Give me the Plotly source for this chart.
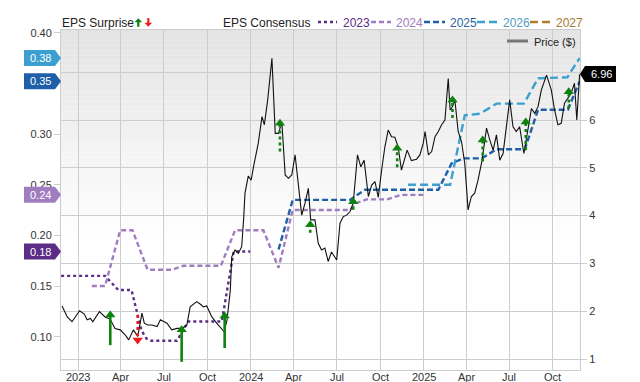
import plotly.graph_objects as go

# ---------------- data ----------------
price_dates = [
    "2022-11-28", "2022-12-09", "2022-12-19", "2022-12-26", "2023-01-04", "2023-01-14", "2023-01-20",
    "2023-01-27", "2023-02-01", "2023-02-15", "2023-02-27", "2023-03-10", "2023-03-20", "2023-03-31",
    "2023-04-11", "2023-04-18", "2023-04-28", "2023-05-07", "2023-05-16", "2023-05-21", "2023-05-28",
    "2023-06-06", "2023-06-17", "2023-06-24", "2023-07-08", "2023-07-18", "2023-07-29", "2023-08-09",
    "2023-08-19", "2023-08-26", "2023-09-09", "2023-09-16", "2023-09-23", "2023-09-30", "2023-10-11",
    "2023-10-21", "2023-11-01", "2023-11-06", "2023-11-12", "2023-11-19", "2023-11-22", "2023-11-29",
    "2023-12-06", "2023-12-10", "2023-12-13", "2023-12-17", "2023-12-20", "2023-12-27", "2024-01-02",
    "2024-01-07", "2024-01-14", "2024-01-17", "2024-01-25", "2024-01-30", "2024-02-06", "2024-02-15",
    "2024-02-22", "2024-02-29", "2024-03-07", "2024-03-14", "2024-03-21", "2024-03-28", "2024-04-04",
    "2024-04-11", "2024-04-18", "2024-04-25", "2024-05-02", "2024-05-07", "2024-05-16", "2024-05-23",
    "2024-05-30", "2024-06-06", "2024-06-13", "2024-06-20", "2024-07-01", "2024-07-08", "2024-07-15",
    "2024-07-22", "2024-07-29", "2024-08-05", "2024-08-14", "2024-08-21", "2024-08-28", "2024-09-06",
    "2024-09-13", "2024-09-20", "2024-09-27", "2024-10-04", "2024-10-11", "2024-10-18", "2024-10-25",
    "2024-11-01", "2024-11-08", "2024-11-15", "2024-11-22", "2024-11-27", "2024-12-06", "2024-12-17",
    "2024-12-24", "2024-12-31", "2025-01-04", "2025-01-11", "2025-01-18", "2025-01-25", "2025-02-01",
    "2025-02-08", "2025-02-15", "2025-02-22", "2025-02-26", "2025-03-01", "2025-03-08", "2025-03-15",
    "2025-03-22", "2025-03-29", "2025-04-05", "2025-04-12", "2025-04-19", "2025-04-26", "2025-05-04",
    "2025-05-14", "2025-05-21", "2025-05-28", "2025-06-04", "2025-06-11", "2025-06-18", "2025-06-25",
    "2025-07-02", "2025-07-09", "2025-07-16", "2025-07-23", "2025-08-01", "2025-08-07", "2025-08-17",
    "2025-08-24", "2025-08-31", "2025-09-07", "2025-09-18", "2025-09-28", "2025-10-05", "2025-10-12",
    "2025-10-19", "2025-10-26", "2025-11-02", "2025-11-09", "2025-11-16", "2025-11-21", "2025-11-27",
]
price_values = [
    2.11, 1.88, 1.78, 1.88, 2.01, 1.94, 1.82,
    1.85, 1.78, 1.99, 1.88, 1.83, 1.64, 1.61,
    1.50, 1.40, 1.61, 1.47, 1.96, 1.75, 1.71,
    1.71, 1.68, 1.82, 1.75, 1.61, 1.64, 1.64,
    1.71, 2.09, 2.20, 2.15, 2.09, 2.11, 1.88,
    1.75, 1.64, 1.57, 1.82, 2.44, 3.14, 3.28,
    3.21, 3.29, 3.35, 3.91, 4.47, 4.83, 4.74,
    5.02, 5.37, 5.51, 6.07, 5.90, 6.42, 7.29,
    5.72, 5.72, 5.96, 4.85, 4.78, 4.85, 5.27,
    4.60, 4.01, 4.26, 4.57, 3.91, 3.91, 3.42,
    3.28, 3.32, 3.04, 3.24, 3.07, 3.84, 3.98,
    4.01, 4.08, 4.26, 5.27, 5.02, 5.16, 4.40,
    4.64, 4.71, 4.38, 4.95, 5.44, 5.79, 5.65,
    5.64, 5.44, 4.95, 5.20, 5.37, 5.15, 5.18,
    5.27, 5.51, 5.76, 5.27, 5.34, 5.65, 5.76,
    5.90, 6.00, 6.87, 6.21, 6.24, 6.42, 5.76,
    5.55, 5.09, 4.12, 4.40, 4.47, 4.74, 5.13,
    5.83, 5.58, 5.37, 5.69, 5.16, 5.30, 5.86,
    6.42, 5.86, 5.76, 5.86, 5.30, 5.65, 6.24,
    6.14, 6.28, 6.63, 6.94, 6.63, 6.21, 5.90,
    5.93, 6.35, 6.45, 6.56, 6.77, 6.00, 6.96,
]

eps2023_dates = ["2022-11-26", "2023-02-27", "2023-03-27", "2023-04-24", "2023-05-15", "2023-05-26",
                 "2023-06-05", "2023-07-29", "2023-08-22", "2023-11-01", "2023-11-26", "2023-12-31"]
eps2023_values = [0.160, 0.160, 0.146, 0.146, 0.106, 0.098, 0.096, 0.096, 0.115, 0.115, 0.184, 0.184]

eps2024_dates = ["2023-01-30", "2023-02-27", "2023-03-31", "2023-04-26", "2023-05-28", "2023-07-18",
                 "2023-08-12", "2023-10-30", "2023-11-29", "2024-01-28", "2024-02-29", "2024-03-30",
                 "2024-07-29", "2024-08-12", "2024-09-02", "2024-10-15", "2024-11-15", "2024-12-31"]
eps2024_values = [0.150, 0.150, 0.205, 0.205, 0.166, 0.166, 0.170, 0.170, 0.205, 0.205, 0.168, 0.225,
                  0.225, 0.232, 0.2355, 0.2355, 0.240, 0.240]

eps2025_dates = ["2024-02-29", "2024-03-30", "2024-07-29", "2024-08-30", "2025-02-01", "2025-03-01",
                 "2025-03-26", "2025-05-04", "2025-06-04", "2025-08-03", "2025-08-31", "2025-11-02",
                 "2025-11-27"]
eps2025_values = [0.186, 0.235, 0.235, 0.245, 0.245, 0.271, 0.276, 0.276, 0.285, 0.285, 0.324, 0.324,
                  0.352]

eps2026_dates = ["2024-11-29", "2025-02-26", "2025-03-29", "2025-04-30", "2025-06-04", "2025-08-01",
                 "2025-08-31", "2025-11-01", "2025-11-27"]
eps2026_values = [0.250, 0.250, 0.3185, 0.320, 0.330, 0.330, 0.355, 0.356, 0.375]

eps2027_dates = []
eps2027_values = []

# EPS surprise arrows (drawn against the price scale)
surprise_dates = ["2023-03-10", "2023-05-07", "2023-08-08", "2023-11-07", "2024-03-03", "2024-05-06",
                  "2024-08-05", "2024-11-06", "2025-03-03", "2025-05-06", "2025-08-05", "2025-11-04"]
surprise_from = [1.29, 1.92, 0.94, 1.23, 5.34, 3.64, 4.12, 5.01, 6.04, 5.13, 5.37, 6.24]
surprise_to = [1.92, 1.40, 1.61, 1.90, 5.93, 3.81, 4.29, 5.41, 6.42, 5.58, 5.96, 6.59]

x_tick_dates = ["2023-01-01", "2023-04-01", "2023-07-01", "2023-10-01", "2024-01-01", "2024-04-01",
                "2024-07-01", "2024-10-01", "2025-01-01", "2025-04-01", "2025-07-01", "2025-10-01"]
x_tick_labels = ["2023", "Apr", "Jul", "Oct", "2024", "Apr", "Jul", "Oct", "2025", "Apr", "Jul", "Oct"]
eps_ticks = [0.10, 0.15, 0.20, 0.25, 0.30, 0.35, 0.40]
eps_tick_labels = ["0.10", "0.15", "0.20", "0.25", "0.30", "", "0.40"]   # 0.35 sits under a badge
price_ticks = [1, 2, 3, 4, 5, 6, 7]
price_tick_labels = ["1", "2", "3", "4", "5", "6", ""]                 # 7 sits under the price badge

# ---------------- styling ----------------
FONT = "Liberation Sans, Arial, sans-serif"
C2023, C2024, C2025, C2026, C2027 = "#5b2d86", "#a07cc0", "#1f5fa8", "#3ba0cf", "#b07d2b"
GREEN, RED = "#0e820e", "#ee1c1c"
GRID = "#cdcdcd"

# the page body adds an 8px offset, so the figure is laid out 8px up/left of screen positions
OFF = 8
SL, ST, SR, SB = 61, 30, 580, 370          # plot area on screen
W, H = 640, 382
L, T = SL - OFF, ST - OFF
PW, PH = SR - SL, SB - ST
R, B = W - L - PW, H - T - PH


def px(x):
    return (x - SL) / PW


def py(y):
    return (SB - y) / PH


fig = go.Figure()

series = [
    (eps2023_dates, eps2023_values, C2023, "dot"),
    (eps2024_dates, eps2024_values, C2024, "5px,3px"),
    (eps2025_dates, eps2025_values, C2025, "6px,3px"),
    (eps2026_dates, eps2026_values, C2026, "8px,4px"),
    (eps2027_dates, eps2027_values, C2027, "8px,4px"),
]
for d, v, c, dash in series:
    fig.add_trace(go.Scatter(x=d, y=v, mode="lines", line=dict(color=c, width=2.4, dash=dash),
                             yaxis="y", showlegend=False, hoverinfo="skip"))

fig.add_trace(go.Scatter(x=price_dates, y=price_values, mode="lines",
                         line=dict(color="#111111", width=1.1), yaxis="y2",
                         showlegend=False, hoverinfo="skip"))

for i, (d, a, b) in enumerate(zip(surprise_dates, surprise_from, surprise_to)):
    up = b > a
    col = GREEN if up else RED
    dash = "solid" if (up and d < "2024-01-01") else "dot"
    fig.add_trace(go.Scatter(x=[d, d], y=[a, b], mode="lines",
                             line=dict(color=col, width=2.6, dash=dash), yaxis="y2",
                             showlegend=False, hoverinfo="skip"))
    fig.add_trace(go.Scatter(x=[d], y=[b], mode="markers",
                             marker=dict(symbol="triangle-up" if up else "triangle-down",
                                         size=9, color=col, line=dict(width=0)),
                             yaxis="y2", showlegend=False, hoverinfo="skip"))

shapes = []
# background gradient (top grey fading to white)
n = 40
for k in range(n):
    y0 = 1 - k * 0.6 / n
    y1 = 1 - (k + 1) * 0.6 / n
    g = int(228 + (255 - 228) * (k + 0.5) / n)
    shapes.append(dict(type="rect", xref="paper", yref="paper", x0=0, x1=1, y0=y1, y1=y0,
                       fillcolor=f"rgb({g},{g},{g})", line=dict(width=0), layer="below"))

annotations = []

# x tick labels placed as text just under the plot
for d, lab in zip(x_tick_dates, x_tick_labels):
    annotations.append(dict(x=d, xref="x", y=py(376.5), yref="paper", xanchor="center",
                            yanchor="middle", text=lab, showarrow=False,
                            font=dict(family=FONT, size=11, color="#333333")))

# left badges anchored at the last EPS consensus value of each series
for d, v, c, dash in series:
    if not v:
        continue
    last = v[-1]
    shapes.append(dict(type="path", xref="paper", yref="y", xsizemode="pixel", ysizemode="pixel",
                       xanchor=0, yanchor=last,
                       path="M -37,-8 L -6,-8 L 0,0 L -6,8 L -37,8 Z",
                       fillcolor=c, line=dict(width=0), layer="above"))
    annotations.append(dict(x=0, xref="paper", y=last, yref="y", xshift=-21, xanchor="center",
                            yanchor="middle", text=f"{last:.2f}", showarrow=False,
                            font=dict(family=FONT, size=11, color="white")))

# right price badge
last_price = price_values[-1]
shapes.append(dict(type="path", xref="paper", yref="y2", xsizemode="pixel", ysizemode="pixel",
                   xanchor=1, yanchor=last_price,
                   path="M 0,0 L 5,-8 L 36,-8 L 36,8 L 5,8 Z",
                   fillcolor="#000000", line=dict(width=0), layer="above"))
annotations.append(dict(x=1, xref="paper", y=last_price, yref="y2", xshift=21, xanchor="center",
                        yanchor="middle", text=f"{last_price:.2f}", showarrow=False,
                        font=dict(family=FONT, size=11, color="white")))

# header legend
ly = 23
annotations.append(dict(x=px(60), y=py(ly), xref="paper", yref="paper", xanchor="left",
                        yanchor="middle", text="EPS Surprise", showarrow=False,
                        font=dict(family=FONT, size=12, color="#222222")))
# green up arrow
shapes.append(dict(type="line", xref="paper", yref="paper", x0=px(138.3), x1=px(138.3),
                   y0=py(26.8), y1=py(21.5), line=dict(color=GREEN, width=2.2)))
shapes.append(dict(type="path", xref="paper", yref="paper",
                   path=f"M {px(134.5)},{py(22.3)} L {px(142.1)},{py(22.3)} L {px(138.3)},{py(18.2)} Z",
                   fillcolor=GREEN, line=dict(width=0)))
# red down arrow
shapes.append(dict(type="line", xref="paper", yref="paper", x0=px(148.3), x1=px(148.3),
                   y0=py(18.2), y1=py(23.5), line=dict(color=RED, width=2.2)))
shapes.append(dict(type="path", xref="paper", yref="paper",
                   path=f"M {px(144.5)},{py(22.7)} L {px(152.1)},{py(22.7)} L {px(148.3)},{py(26.8)} Z",
                   fillcolor=RED, line=dict(width=0)))

annotations.append(dict(x=px(221), y=py(ly), xref="paper", yref="paper", xanchor="left",
                        yanchor="middle", text="EPS Consensus", showarrow=False,
                        font=dict(family=FONT, size=12, color="#222222")))

legend_items = [
    ("2023", C2023, "dot", 318, 337, 341),
    ("2024", C2024, "5px,3px", 371, 391, 394),
    ("2025", C2025, "6px,3px", 424, 445, 448),
    ("2026", C2026, "8px,4px", 477, 498, 501),
    ("2027", C2027, "8px,4px", 530, 551, 554),
]
text_cols = {"2023": "#5b2d86", "2024": "#a07cc0", "2025": "#2a5fa0", "2026": "#4f9cc4", "2027": "#a8792f"}
for lab, c, dash, x0, x1, xt in legend_items:
    shapes.append(dict(type="line", xref="paper", yref="paper", x0=px(x0), x1=px(x1),
                       y0=py(22), y1=py(22), line=dict(color=c, width=2.4, dash=dash)))
    annotations.append(dict(x=px(xt), y=py(ly), xref="paper", yref="paper", xanchor="left",
                            yanchor="middle", text=lab, showarrow=False,
                            font=dict(family=FONT, size=12, color=text_cols[lab])))

# Price legend inside plot
shapes.append(dict(type="line", xref="paper", yref="paper", x0=px(507), x1=px(528),
                   y0=py(41), y1=py(41), line=dict(color="#777777", width=3)))
annotations.append(dict(x=px(532), y=py(41.5), xref="paper", yref="paper", xanchor="left",
                        yanchor="middle", text="Price ($)", showarrow=False,
                        font=dict(family=FONT, size=11, color="#222222")))

fig.update_layout(
    width=W, height=H,
    margin=dict(l=L, r=R, t=T, b=B, pad=0, autoexpand=False),
    paper_bgcolor="white", plot_bgcolor="white",
    font=dict(family=FONT, size=11, color="#333333"),
    showlegend=False,
    shapes=shapes, annotations=annotations,
    xaxis=dict(type="date", range=["2022-11-25 18:00", "2025-11-27 18:00"], automargin=False,
               tickmode="array", tickvals=x_tick_dates, showticklabels=False,
               showgrid=True, gridcolor=GRID, gridwidth=1,
               showline=True, linecolor=GRID, linewidth=1, mirror=True,
               ticks="", ticklen=0, zeroline=False),
    yaxis=dict(range=[0.0671, 0.4027], tickmode="array", tickvals=eps_ticks, automargin=False,
               ticktext=eps_tick_labels, showgrid=False, zeroline=False,
               showline=True, linecolor=GRID, linewidth=1,
               ticks="outside", ticklen=6, tickcolor=GRID,
               tickfont=dict(family=FONT, size=11, color="#333333")),
    yaxis2=dict(range=[0.770, 7.883], overlaying="y", side="right", tickmode="array",
                tickvals=price_ticks, ticktext=price_tick_labels, automargin=False,
                showgrid=True, gridcolor=GRID, gridwidth=1,
                zeroline=False, showline=True, linecolor=GRID, linewidth=1,
                ticks="outside", ticklen=6, tickcolor=GRID,
                tickfont=dict(family=FONT, size=11, color="#333333")),
)

fig.write_html("out.html")
